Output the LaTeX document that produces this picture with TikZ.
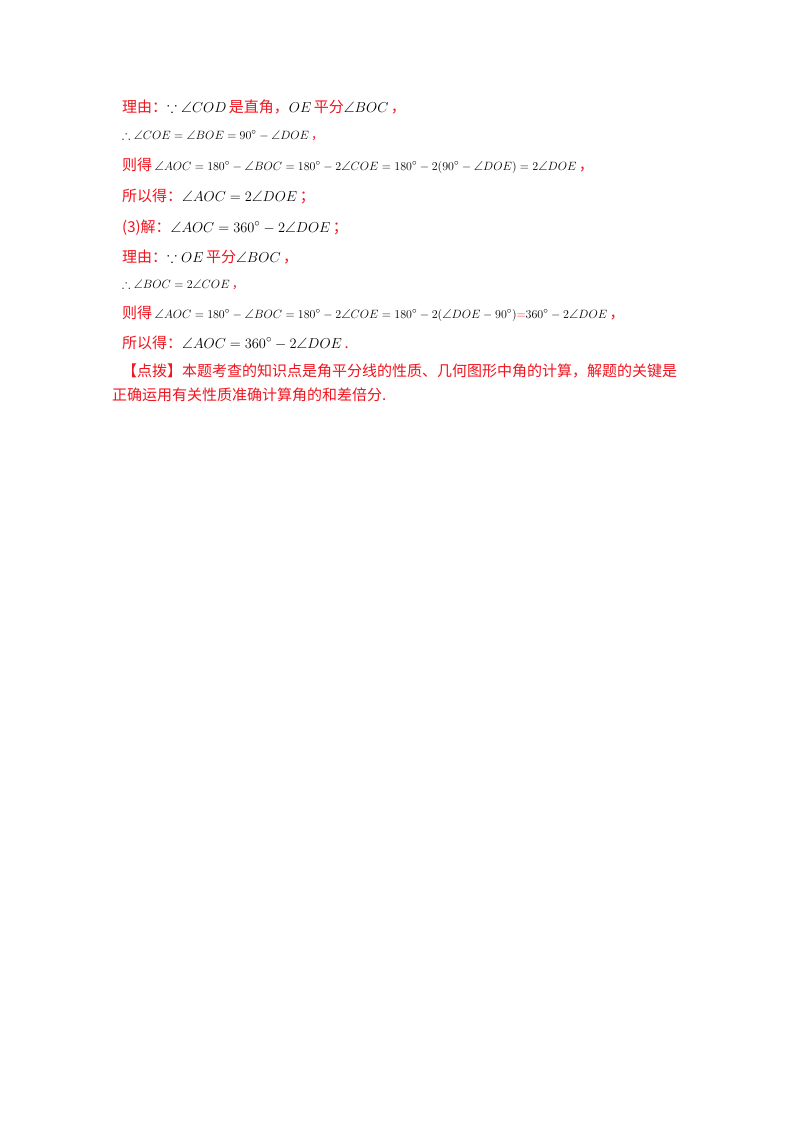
\documentclass[tikz,border=0pt]{standalone}
\usepackage{amssymb}
\usepackage{fontspec}
\setmainfont{Liberation Serif}
\newfontfamily\cjk{Noto Sans CJK SC}
\definecolor{rd}{RGB}{240,20,30}
\newcommand{\zh}[1]{{\color{rd}\cjk #1}}
\begin{document}
\begin{tikzpicture}[x=1pt,y=1pt,
  ln/.style={anchor=base west,inner sep=0pt,font=\fontsize{15}{18}\selectfont},
  sm/.style={anchor=base west,inner sep=0pt,font=\fontsize{12.5}{14}\selectfont}]
\useasboundingbox (0,0) rectangle (800,-1132);
\node[ln] (l1) at (122,-112) {\zh{理由：}$\because\angle COD$\,\zh{是直角，}$OE$\,\zh{平分}$\angle BOC$\,\zh{，}};
\node[sm] (l2) at (122,-139) {$\therefore\angle COE=\angle BOE=90^\circ-\angle DOE$\,\zh{，}};
\node[ln] (l3) at (122,-170) {\zh{则得}\,{\fontsize{13}{15}\selectfont$\angle AOC=180^\circ-\angle BOC=180^\circ-2\angle COE=180^\circ-2(90^\circ-\angle DOE)=2\angle DOE$}\,\zh{，}};
\node[ln] (l4) at (122,-201) {\zh{所以得：}$\angle AOC=2\angle DOE$\,\zh{；}};
\node[ln] (l5) at (122,-232) {\zh{(3)解：}$\angle AOC=360^\circ-2\angle DOE$\,\zh{；}};
\node[ln] (l6) at (122,-262) {\zh{理由：}$\because OE$\,\zh{平分}$\angle BOC$\,\zh{，}};
\node[sm] (l7) at (122,-288) {$\therefore\angle BOC=2\angle COE$\,\zh{，}};
\node[ln] (l8) at (122,-318) {\zh{则得}\,{\fontsize{13}{15}\selectfont$\angle AOC=180^\circ-\angle BOC=180^\circ-2\angle COE=180^\circ-2(\angle DOE-90^\circ)$\color{rd}$=$\color{black}$360^\circ-2\angle DOE$}\,\zh{，}};
\node[ln] (l9) at (122,-348) {\zh{所以得：}$\angle AOC=360^\circ-2\angle DOE$\,\zh{.}};
\node[ln] (l10) at (122,-376) {\zh{【点拨】本题考查的知识点是角平分线的性质、几何图形中角的计算，解题的关键是}};
\node[ln] (l11) at (112,-400) {\zh{正确运用有关性质准确计算角的和差倍分.}};
\end{tikzpicture}
\end{document}
